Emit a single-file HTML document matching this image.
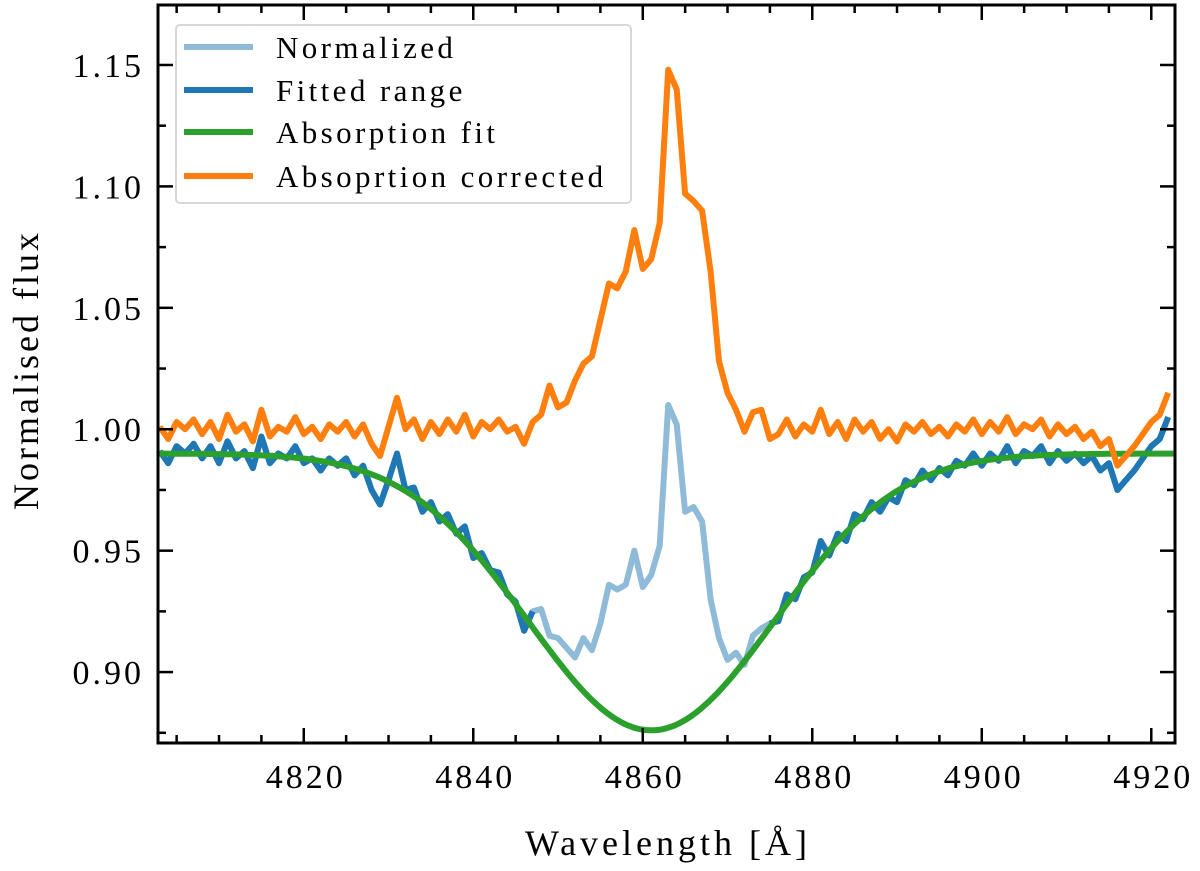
<!DOCTYPE html>
<html><head><meta charset="utf-8"><style>
html,body{margin:0;padding:0;background:#fff;}
svg{display:block;font-family:"Liberation Serif",serif;}
</style></head><body>
<svg id="chart" width="1200" height="871" viewBox="0 0 1200 871">
<rect x="0" y="0" width="1200" height="871" fill="#fff"/>
<g id="series"></g>
<g id="ticks"></g>
<rect x="158" y="5" width="1017" height="738" fill="none" stroke="#000" stroke-width="3"/>
<text x="668" y="855" font-size="36" letter-spacing="4" text-anchor="middle">Wavelength [Å]</text>
<text transform="translate(38,370) rotate(-90)" font-size="36" letter-spacing="3" text-anchor="middle">Normalised flux</text>
<g>
<rect x="176" y="25" width="455" height="178" rx="4" fill="#fff" fill-opacity="0.85" stroke="#d8d8d8" stroke-width="2"/>
<line x1="184" y1="47" x2="253" y2="47" stroke="#8fbbd9" stroke-width="6"/>
<text x="276" y="58" font-size="31" letter-spacing="3.4">Normalized</text>
<line x1="184" y1="90" x2="253" y2="90" stroke="#1f77b4" stroke-width="6"/>
<text x="276" y="101" font-size="31" letter-spacing="3.4">Fitted range</text>
<line x1="184" y1="132" x2="253" y2="132" stroke="#2ca02c" stroke-width="6"/>
<text x="276" y="143" font-size="31" letter-spacing="3.4">Absorption fit</text>
<line x1="184" y1="176" x2="253" y2="176" stroke="#ff7f0e" stroke-width="6"/>
<text x="276" y="187" font-size="31" letter-spacing="3.4">Absoprtion corrected</text>
</g>
</svg>
<script>
const wavelengthStart = 4803;
const corrected = [1.001,0.996,1.003,1.000,1.004,0.998,1.003,0.996,1.006,0.999,1.002,0.995,1.008,0.997,1.001,0.999,1.005,0.998,1.001,0.996,1.002,0.999,1.003,0.997,1.002,0.994,0.989,1.001,1.013,1.000,1.004,0.996,1.003,0.998,1.004,0.999,1.006,0.997,1.003,1.000,1.004,0.999,1.001,0.994,1.003,1.006,1.018,1.009,1.011,1.020,1.027,1.030,1.045,1.060,1.058,1.065,1.082,1.066,1.070,1.085,1.148,1.140,1.097,1.094,1.090,1.065,1.028,1.015,1.008,0.999,1.007,1.008,0.996,0.998,1.004,0.997,1.002,0.999,1.008,0.998,1.003,0.996,1.004,0.999,1.003,0.996,1.000,0.995,1.002,0.999,1.003,0.998,1.001,0.997,1.002,0.999,1.004,0.998,1.003,0.999,1.005,0.998,1.002,1.000,1.004,0.997,1.002,0.998,1.001,0.996,0.999,0.993,0.996,0.985,0.989,0.993,0.998,1.003,1.006,1.015];
const normalized = [0.991,0.986,0.993,0.990,0.994,0.988,0.993,0.986,0.995,0.988,0.991,0.984,0.997,0.986,0.990,0.988,0.993,0.986,0.988,0.983,0.988,0.985,0.988,0.981,0.985,0.975,0.969,0.979,0.990,0.975,0.976,0.966,0.970,0.962,0.965,0.957,0.960,0.947,0.949,0.942,0.941,0.932,0.929,0.917,0.925,0.926,0.915,0.914,0.910,0.906,0.914,0.909,0.920,0.936,0.934,0.936,0.950,0.935,0.940,0.952,1.010,1.002,0.966,0.968,0.962,0.930,0.914,0.905,0.908,0.903,0.915,0.918,0.920,0.921,0.932,0.930,0.939,0.941,0.954,0.948,0.957,0.954,0.965,0.963,0.970,0.966,0.972,0.970,0.979,0.977,0.983,0.979,0.984,0.981,0.987,0.985,0.990,0.985,0.990,0.987,0.993,0.986,0.991,0.989,0.993,0.986,0.991,0.987,0.990,0.986,0.989,0.983,0.986,0.975,0.979,0.983,0.988,0.993,0.996,1.005];
const excludedRange = [4847.5, 4874.5];
const fitParams = [0.99, 0.114, 4861, 14.5]; // continuum, depth, centre, sigma
const xTicks = [4820,4840,4860,4880,4900,4920];
const yTicks = [0.90,0.95,1.00,1.05,1.10,1.15];

const X0=158,X1=1175,Y0=743,Y1=5, XMIN=4802.8, XMAX=4922.8, YMIN=0.8708, YMAX=1.1747;
const sx = v => X0 + (v-XMIN)/(XMAX-XMIN)*(X1-X0);
const sy = v => Y0 - (v-YMIN)/(YMAX-YMIN)*(Y0-Y1);
const NS="http://www.w3.org/2000/svg";
const series=document.getElementById('series'), ticks=document.getElementById('ticks');
function poly(pts,color,name){
  const p=document.createElementNS(NS,'polyline');
  p.setAttribute('points',pts.map(q=>sx(q[0]).toFixed(1)+','+sy(q[1]).toFixed(1)).join(' '));
  p.setAttribute('fill','none');p.setAttribute('stroke',color);p.setAttribute('stroke-width','6');
  p.setAttribute('stroke-linejoin','round');
  
  
  series.appendChild(p);
}
const clip=document.createElementNS(NS,'clipPath');clip.id='pc';
const cr=document.createElementNS(NS,'rect');cr.setAttribute('x',X0);cr.setAttribute('y',Y1);cr.setAttribute('width',X1-X0);cr.setAttribute('height',Y0-Y1);
clip.appendChild(cr);series.appendChild(clip);series.setAttribute('clip-path','url(#pc)');
const normPts=normalized.map((v,i)=>[wavelengthStart+i,v]);
poly(normPts,'#8fbbd9','normalized-line');
poly(normPts.filter(p=>p[0]<=excludedRange[0]),'#1f77b4','fitted-range-left');
poly(normPts.filter(p=>p[0]>=excludedRange[1]),'#1f77b4','fitted-range-right');
const fitPts=[];
for(let w=XMIN;w<=XMAX;w+=0.5){fitPts.push([w,fitParams[0]-fitParams[1]*Math.exp(-Math.pow(w-fitParams[2],2)/(2*fitParams[3]*fitParams[3]))]);}
poly(fitPts,'#2ca02c','absorption-fit-line');
poly(corrected.map((v,i)=>[wavelengthStart+i,v]),'#ff7f0e','absorption-corrected-line');
function tl(x1,y1,x2,y2,name){
  const l=document.createElementNS(NS,'line');
  l.setAttribute('x1',x1);l.setAttribute('y1',y1);l.setAttribute('x2',x2);l.setAttribute('y2',y2);
  l.setAttribute('stroke','#000');l.setAttribute('stroke-width','2.5');
  
  
  ticks.appendChild(l);
}
function txt(x,y,s,anchor,name){
  const t=document.createElementNS(NS,'text');
  t.setAttribute('x',x);t.setAttribute('y',y);t.setAttribute('font-size','34');t.setAttribute('letter-spacing','3');t.setAttribute('text-anchor',anchor);
  t.textContent=s;
  
  
  ticks.appendChild(t);
}
for(let w=4805;w<=4920;w+=5){
  const major=w%20===0, L=major?15:8, x=sx(w);
  tl(x,Y0,x,Y0-L,'x-tick');tl(x,Y1,x,Y1+L,'x-tick-top');
}
xTicks.forEach(w=>txt(sx(w)+2,788,String(w),'middle','x-tick-label'));
for(let k=0;k<=12;k++){
  const v=0.875+k*0.025; if(v>YMAX) break;
  const major=k%2===1, L=major?15:8, y=sy(v);
  tl(X0,y,X0+L,y,'y-tick');tl(X1,y,X1-L,y,'y-tick-right');
}
yTicks.forEach(v=>txt(144,sy(v)+12,v.toFixed(2),'end','y-tick-label'));
</script>
</body></html>
